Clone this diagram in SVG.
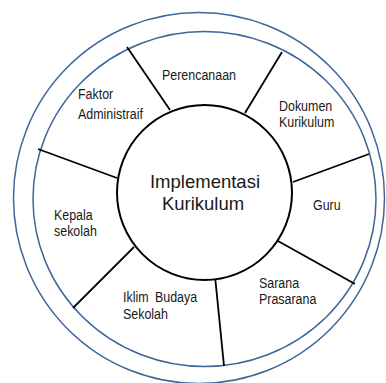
<svg xmlns="http://www.w3.org/2000/svg" width="386" height="383" viewBox="0 0 386 383">
<style>
.ring{fill:none;stroke:#3d6699;stroke-width:1.5}
.spoke{stroke:#000;stroke-width:1.8;fill:none}
.t{font-family:"Liberation Sans",Arial,sans-serif;font-size:15px;fill:#1a1a1a}
.c{font-family:"Liberation Sans",Arial,sans-serif;font-size:18.5px;fill:#1a1a1a;text-anchor:middle}
</style>
<rect width="386" height="383" fill="#fff"/>
<g id="rings">
<circle class="ring" cx="199" cy="198" r="185.5"/>
<ellipse class="ring" cx="204.5" cy="199" rx="171.5" ry="167.5"/>
</g>
<g id="connectors">
<line class="spoke" x1="127" y1="47" x2="170" y2="110"/>
<line class="spoke" x1="282" y1="52" x2="245" y2="113"/>
<line class="spoke" x1="369" y1="154" x2="293" y2="182"/>
<line class="spoke" x1="355" y1="284" x2="278" y2="241"/>
<line class="spoke" x1="224" y1="366" x2="215" y2="276"/>
<line class="spoke" x1="73" y1="308" x2="134" y2="247"/>
<line class="spoke" x1="38" y1="149" x2="117" y2="178"/>
</g>
<g id="center">
<circle cx="204.5" cy="192.5" r="87.5" fill="#fff" stroke="#000" stroke-width="2"/>
<text class="c" x="205" y="188">Implementasi</text>
<text class="c" x="203" y="210">Kurikulum</text>
</g>
<g id="perencanaan"><text class="t" transform="translate(162 80) scale(0.83 1)">Perencanaan</text></g>
<g id="dokumen"><text class="t" transform="translate(279 111) scale(0.83 1)">Dokumen</text><text class="t" transform="translate(279 127) scale(0.83 1)">Kurikulum</text></g>
<g id="guru"><text class="t" transform="translate(313 210) scale(0.83 1)">Guru</text></g>
<g id="sarana"><text class="t" transform="translate(259 288) scale(0.83 1)">Sarana</text><text class="t" transform="translate(259 304) scale(0.83 1)">Prasarana</text></g>
<g id="iklim"><text class="t" transform="translate(123 302) scale(0.83 1)">Iklim</text><text class="t" transform="translate(155 302) scale(0.83 1)">Budaya</text><text class="t" transform="translate(123 319) scale(0.83 1)">Sekolah</text></g>
<g id="kepala"><text class="t" transform="translate(54 220) scale(0.83 1)">Kepala</text><text class="t" transform="translate(54 236) scale(0.83 1)">sekolah</text></g>
<g id="faktor"><text class="t" transform="translate(78 99) scale(0.83 1)">Faktor</text><text class="t" transform="translate(78 119) scale(0.83 1)">Administraif</text></g>
</svg>
